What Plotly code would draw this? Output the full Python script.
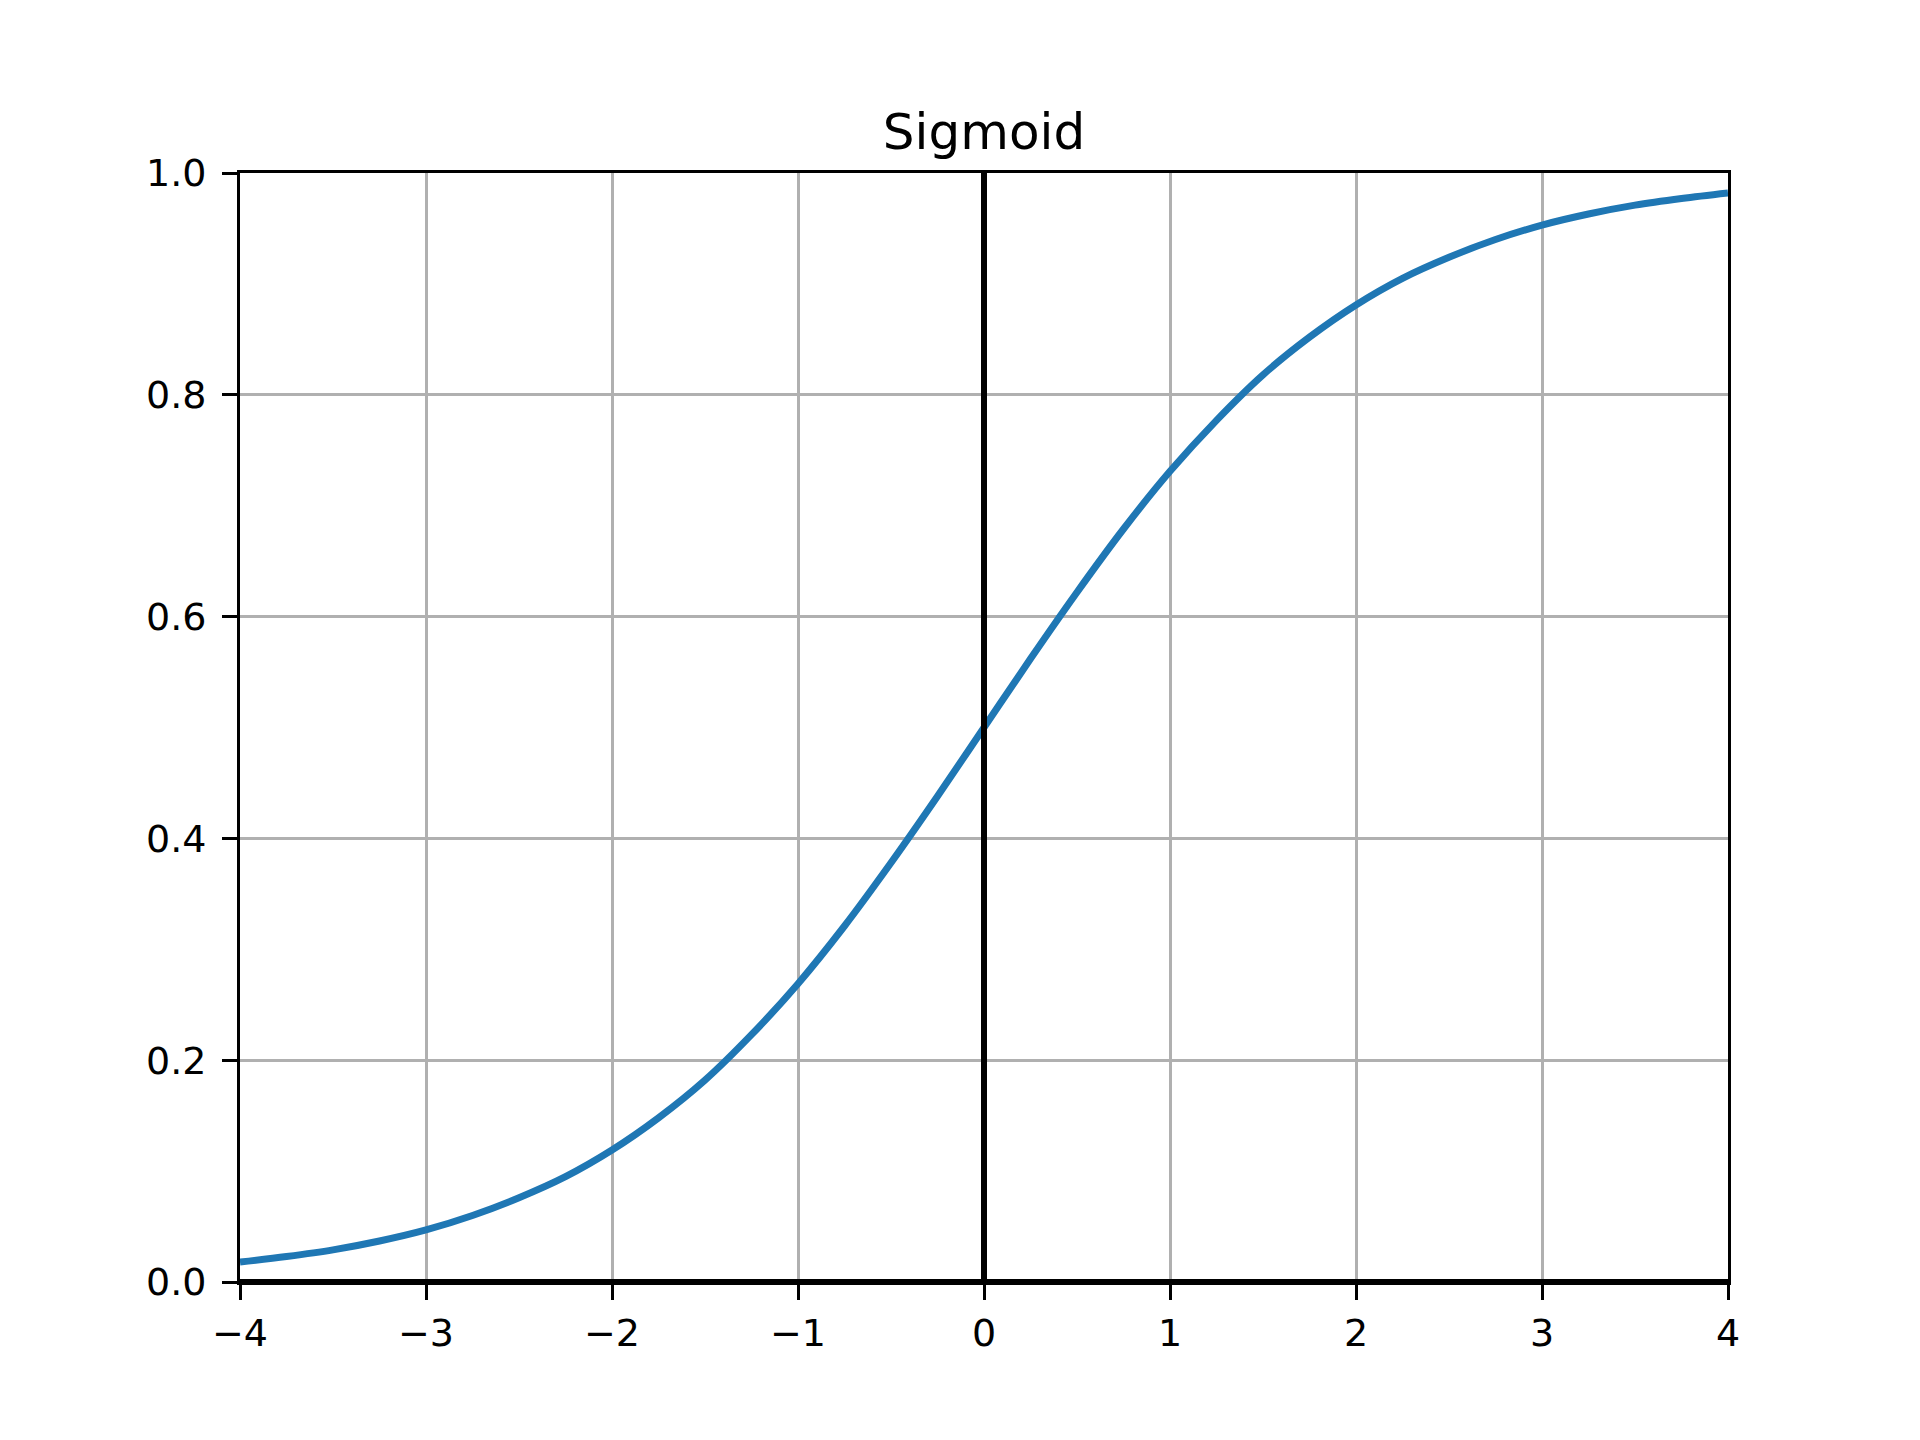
import plotly.graph_objects as go

# Curve values
x_vals = [-4.0, -3.75, -3.5, -3.25, -3.0, -2.75, -2.5, -2.25, -2.0, -1.75, -1.5, -1.25,
          -1.0, -0.75, -0.5, -0.25, 0.0, 0.25, 0.5, 0.75, 1.0, 1.25, 1.5, 1.75,
          2.0, 2.25, 2.5, 2.75, 3.0, 3.25, 3.5, 3.75, 4.0]
y_vals = [0.018, 0.023, 0.029, 0.037, 0.047, 0.060, 0.076, 0.095, 0.119, 0.148, 0.182, 0.223,
          0.269, 0.321, 0.378, 0.438, 0.500, 0.562, 0.622, 0.679, 0.731, 0.777, 0.818, 0.852,
          0.881, 0.905, 0.924, 0.940, 0.953, 0.963, 0.971, 0.977, 0.982]

x_ticks = [-4, -3, -2, -1, 0, 1, 2, 3, 4]
y_ticks = [0.0, 0.2, 0.4, 0.6, 0.8, 1.0]
y_tick_text = ["0.0", "0.2", "0.4", "0.6", "0.8", "1.0"]

FONT = "DejaVu Sans"

fig = go.Figure()
fig.add_trace(go.Scatter(x=x_vals, y=y_vals, mode="lines",
                         line=dict(color="#1f77b4", width=7, shape="spline", smoothing=1.0),
                         showlegend=False, hoverinfo="skip"))

# black reference lines at x=0 and y=0 (drawn on top of the curve)
fig.add_shape(type="line", xref="x", yref="paper", x0=0, x1=0, y0=0, y1=1,
              line=dict(color="black", width=6), layer="above")
fig.add_shape(type="line", xref="paper", yref="y", x0=0, x1=1, y0=0, y1=0,
              line=dict(color="black", width=6), layer="above")

axis_common = dict(
    showline=True, linecolor="black", linewidth=3, mirror=True,
    ticks="outside", ticklen=15, tickwidth=3, tickcolor="black",
    showgrid=True, gridcolor="#b0b0b0", gridwidth=2.5,
    zeroline=False,
    tickfont=dict(family=FONT, size=38, color="black"),
)

fig.update_layout(
    width=1920, height=1440,
    paper_bgcolor="white", plot_bgcolor="white",
    margin=dict(l=232, r=200, t=165, b=166),
    font=dict(family=FONT, color="black"),
    title=dict(text="Sigmoid", x=0.5, xref="paper", xanchor="center",
               y=1, yref="paper", yanchor="bottom", pad=dict(b=24),
               font=dict(family=FONT, size=50, color="black")),
    xaxis=dict(range=[-4, 4], tickvals=x_ticks, **axis_common),
    yaxis=dict(range=[0, 1], tickvals=y_ticks, ticktext=y_tick_text,
               ticklabelstandoff=8, **axis_common),
)

fig.write_html("out.html")
